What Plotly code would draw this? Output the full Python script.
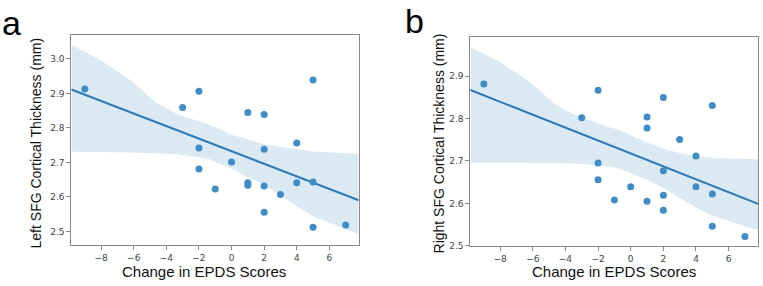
import numpy as np
import plotly.graph_objects as go

# ---- data ----
epds_change = [-9, -3, -2, -2, -2, -1, 0, 1, 1, 1, 2, 2, 2, 2, 3, 4, 4, 5, 5, 5, 7]
left_sfg = [2.913, 2.859, 2.906, 2.742, 2.681, 2.623, 2.701, 2.845, 2.641, 2.634,
            2.839, 2.738, 2.632, 2.556, 2.607, 2.756, 2.641, 2.939, 2.643, 2.512, 2.519]
right_sfg = [2.882, 2.802, 2.867, 2.695, 2.656, 2.608, 2.639, 2.804, 2.778, 2.605,
             2.850, 2.677, 2.619, 2.584, 2.751, 2.712, 2.639, 2.831, 2.622, 2.546, 2.522]

# confidence band edges
band_x = [-9.8, -8.0, -6.2, -4.6, -3.3, -1.4, -0.8, 0, 1, 2, 3, 4, 5, 7.8]
left_upper = [3.040, 2.995, 2.938, 2.872, 2.839, 2.810, 2.798, 2.780, 2.767, 2.753, 2.745, 2.739, 2.732, 2.725]
left_lower = [2.731, 2.730, 2.729, 2.727, 2.724, 2.710, 2.698, 2.682, 2.658, 2.634, 2.606, 2.573, 2.544, 2.492]
right_upper = [2.968, 2.933, 2.887, 2.833, 2.806, 2.780, 2.775, 2.760, 2.744, 2.729, 2.719, 2.711, 2.707, 2.704]
right_lower = [2.696, 2.696, 2.696, 2.695, 2.694, 2.687, 2.684, 2.672, 2.656, 2.636, 2.613, 2.590, 2.571, 2.536]

x_ticks = [-8, -6, -4, -2, 0, 2, 4, 6]
left_y_ticks = [2.5, 2.6, 2.7, 2.8, 2.9, 3.0]
right_y_ticks = [2.5, 2.6, 2.7, 2.8, 2.9]
x_range = [-9.83, 7.8]
left_y_range = [2.461, 3.069]
right_y_range = [2.4995, 2.9935]

y_titles = ["Left SFG Cortical Thickness (mm)", "Right SFG Cortical Thickness (mm)"]
x_title = "Change in EPDS Scores"
panel_labels = ["a", "b"]

LINE_C = "#2b7bba"
PT_C = "#3f8dc8"
BAND_C = "rgba(31,119,180,0.16)"
FONT = "Liberation Sans, Arial, sans-serif"

fig = go.Figure()

panels = [
    ("x", "y", left_sfg, left_upper, left_lower),
    ("x2", "y2", right_sfg, right_upper, right_lower),
]
for xa, ya, yv, up, lo in panels:
    fig.add_trace(go.Scatter(x=band_x + band_x[::-1], y=up + lo[::-1], fill="toself",
                             fillcolor=BAND_C, line=dict(width=0), mode="lines",
                             hoverinfo="skip", showlegend=False, xaxis=xa, yaxis=ya))
    slope, icpt = np.polyfit(epds_change, yv, 1)
    lx = np.array(x_range)
    fig.add_trace(go.Scatter(x=lx, y=slope * lx + icpt, mode="lines",
                             line=dict(color=LINE_C, width=2), showlegend=False,
                             xaxis=xa, yaxis=ya))
    fig.add_trace(go.Scatter(x=epds_change, y=yv, mode="markers",
                             marker=dict(color=PT_C, size=7), showlegend=False,
                             xaxis=xa, yaxis=ya))

W, H = 763, 286
axis_common = dict(showgrid=False, zeroline=False, showline=True, mirror=True,
                   linecolor="#8a8a8a", linewidth=1, ticks="outside", ticklen=4,
                   tickcolor="#8a8a8a", tickfont=dict(family="DejaVu Sans", size=9, color="#444"))

fig.update_layout(
    width=W, height=H, margin=dict(l=0, r=0, t=0, b=0),
    paper_bgcolor="white", plot_bgcolor="white",
    xaxis=dict(domain=[71.3 / W, 358.7 / W], range=x_range, tickvals=x_ticks,
               anchor="y", **axis_common),
    yaxis=dict(domain=[1 - 249.3 / H, 1 - 35.7 / H], range=left_y_range,
               tickvals=left_y_ticks, tickformat=".1f", anchor="x", **axis_common),
    xaxis2=dict(domain=[470.3 / W, 758 / W], range=x_range, tickvals=x_ticks,
                anchor="y2", **axis_common),
    yaxis2=dict(domain=[1 - 250.3 / H, 1 - 37.3 / H], range=right_y_range,
                tickvals=right_y_ticks, tickformat=".1f", anchor="x2", **axis_common),
)

ann = []
# y titles
for xc, txt in [(36, y_titles[0]), (439, y_titles[1])]:
    ann.append(dict(x=xc / W, y=1 - 146 / H, xref="paper", yref="paper", text=txt,
                    textangle=-90, showarrow=False, xanchor="center", yanchor="middle",
                    font=dict(family=FONT, size=14, color="#111")))
# x titles
for xc in [204, 614]:
    ann.append(dict(x=xc / W, y=1 - 276 / H, xref="paper", yref="paper", text=x_title,
                    showarrow=False, xanchor="center", yanchor="middle",
                    font=dict(family=FONT, size=15, color="#111")))
# panel labels
for xc, yc, t in [(11, 23, panel_labels[0]), (414, 21, panel_labels[1])]:
    ann.append(dict(x=xc / W, y=1 - yc / H, xref="paper", yref="paper", text=t,
                    showarrow=False, xanchor="center", yanchor="middle",
                    font=dict(family=FONT, size=34, color="#000")))
fig.update_layout(annotations=ann)

fig.write_html("out.html")
